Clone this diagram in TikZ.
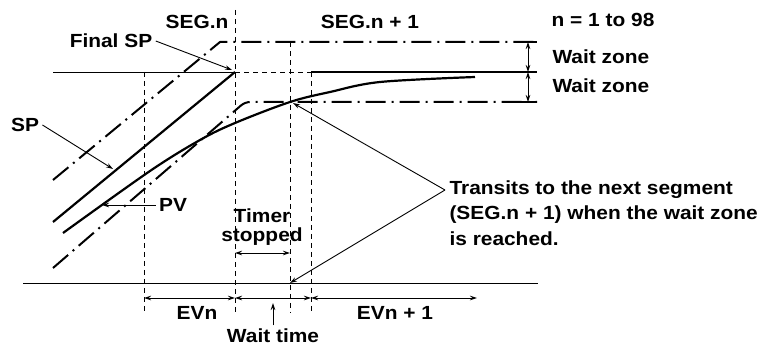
\documentclass[tikz,border=0pt]{standalone}
\usepackage{fontspec}
\setmainfont[FakeStretch=1.1]{Liberation Sans}
\usetikzlibrary{arrows.meta}
\begin{document}
\begin{tikzpicture}[x=1pt, y=-1pt, line join=round, >={Stealth[length=7pt,width=4.5pt]},
    font=\fontsize{19}{19.5}\selectfont\bfseries,
    thinline/.style={line width=0.9pt},
    thickline/.style={line width=2.2pt},
    dashdot/.style={line width=2pt, dash pattern=on 20pt off 6pt on 2pt off 6pt},
    guide/.style={line width=0.9pt, dash pattern=on 5pt off 4pt}]
    \useasboundingbox (0,0) rectangle (764,347);
    \coordinate (F) at (235,72);
    \coordinate (S0) at (53,222);
    \coordinate (U0) at (53,180);
    \coordinate (U1) at (220,42);
    \coordinate (U2) at (537,42);
    \coordinate (L0) at (53,268);
    \coordinate (L1) at (245,102);
    \coordinate (L2) at (537,102);
    \coordinate (N0) at (311,72);
    \coordinate (N1) at (537,72);
    \coordinate (X) at (290,102);
    \coordinate (T) at (290,283);
    \draw[thinline] (53,72) -- (F);
    \draw[guide] (F) -- (N0);
    \draw[thickline] (N0) -- (N1);
    \draw[thickline] (S0) -- (F);
    \draw[dashdot] (U0) -- (U1) -- (U2);
    \draw[dashdot, rounded corners=5pt] (L0) -- (L1) -- (L2);
    \draw[line width=2pt] (516,42) -- (U2);
    \draw[line width=2pt] (516,102) -- (L2);
    \draw[thickline] plot[smooth, tension=0.55] coordinates
        {(63,233) (150,171) (200,140) (235,123) (X) (330,92) (380,82) (475,77)};
    \draw[guide] (144,72) -- (144,313);
    \draw[guide] (235,10) -- (235,313);
    \draw[guide] (290,42) -- (290,313);
    \draw[guide] (311,72) -- (311,313);
    \draw[thinline] (23,283) -- (538,283);
    \draw[thinline, <->] (528,42) -- (528,72);
    \draw[thinline, <->] (528,72) -- (528,102);
    \draw[thinline, <->] (235,253) -- (290,253);
    \draw[thinline, <->] (144,298) -- (235,298);
    \draw[thinline, <->] (235,298) -- (311,298);
    \draw[thinline, <->] (311,298) -- (477,298);
    \node (segn) at (197,22) {SEG.n};
    \node (segnext) at (370,22) {SEG.n + 1};
    \node (range) at (603,20) {n = 1 to 98};
    \node[anchor=west] (zoneup) at (549,57) {Wait zone};
    \node[anchor=west] (zonedown) at (549,86) {Wait zone};
    \node (finalsp) at (111,41) {Final SP};
    \node (sp) at (25,125) {SP};
    \node (pv) at (173,205) {PV};
    \node[align=center] (timer) at (262,227) {Timer\\stopped};
    \node[align=left, anchor=north west, font=\fontsize{19}{25.5}\selectfont\bfseries] (transit) at (446,177)
        {Transits to the next segment\\(SEG.n + 1) when the wait zone\\is reached.};
    \node (evn) at (197,313) {EVn};
    \node (evnext) at (395,313) {EVn + 1};
    \node (waittime) at (273,336) {Wait time};
    \coordinate (src) at (445,190);
    \draw[thinline, ->] (finalsp.east) -- ([shift={(-3,-2)}]F);
    \draw[thinline, ->] (sp.east) -- (113,169);
    \draw[thinline, ->] (pv.west) -- (102,205);
    \draw[thinline, ->] (src) -- ([shift={(3,1)}]X);
    \draw[thinline, ->] (src) -- (T);
    \draw[thinline, ->] (waittime.north) -- (273,303);
\end{tikzpicture}
\end{document}
